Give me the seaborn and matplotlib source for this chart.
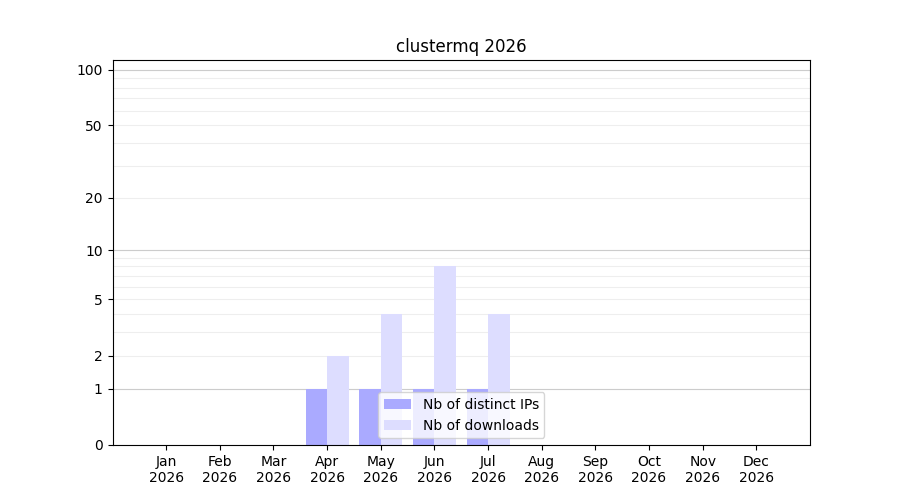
import numpy as np
import pandas as pd
import matplotlib
matplotlib.use('Agg')
import matplotlib.pyplot as plt
import seaborn as sns

months = ['Jan', 'Feb', 'Mar', 'Apr', 'May', 'Jun', 'Jul', 'Aug', 'Sep', 'Oct', 'Nov', 'Dec']
year = 2026
ips = [0, 0, 0, 1, 1, 1, 1, 0, 0, 0, 0, 0]
downloads = [0, 0, 0, 2, 4, 8, 4, 0, 0, 0, 0, 0]

labels = [m + '\n' + str(year) for m in months]
df = pd.DataFrame({
    'month': labels * 2,
    'count': ips + downloads,
    'kind': ['Nb of distinct IPs'] * 12 + ['Nb of downloads'] * 12,
})

fig, ax = plt.subplots(figsize=(9, 5), dpi=100)

ax.set_yscale('function', functions=(lambda y: np.log10(1 + np.asarray(y)),
                                     lambda y: 10 ** np.asarray(y) - 1))

sns.barplot(data=df, x='month', y='count', hue='kind', order=labels,
            palette=['#aaaaff', '#ddddff'], saturation=1, width=0.8, ax=ax)

ax.set_xlim(-1, 12)
ax.set_ylim(0, 113)

major = [0, 1, 2, 5, 10, 20, 50, 100]
ax.set_yticks(major)
ax.set_yticklabels([str(v) for v in major])
minor = [3, 4, 6, 7, 8, 9, 30, 40, 60, 70, 80, 90]
ax.set_yticks(minor, minor=True)
ax.tick_params(axis='y', which='minor', length=0)
ax.set_axisbelow(True)
ax.grid(axis='y', which='both', color='#eeeeee', linewidth=0.8, zorder=0.5)
for v in [1, 10, 100]:
    ax.axhline(v, color='#cccccc', linewidth=0.8, zorder=0.7)

ax.set_xlabel('')
ax.set_ylabel('')
ax.set_title('clustermq 2026')
ax.legend(loc='lower center', title=None)

fig.savefig('out.png')
